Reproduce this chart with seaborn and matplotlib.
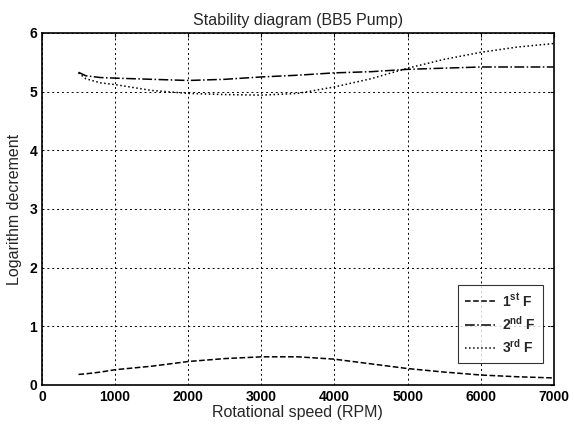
import numpy as np
import pandas as pd
import seaborn as sns
import matplotlib.pyplot as plt

# rotational speed (RPM)
speed = [500, 600, 800, 1000, 1500, 2000, 2500, 3000, 3500, 4000, 4500,
         5000, 5500, 6000, 6500, 7000]

# logarithmic decrement per mode
first_f = [0.18, 0.19, 0.22, 0.26, 0.32, 0.40, 0.45, 0.48, 0.48, 0.44, 0.36,
           0.28, 0.22, 0.17, 0.14, 0.12]
second_f = [5.33, 5.27, 5.24, 5.23, 5.21, 5.19, 5.21, 5.25, 5.28, 5.32, 5.34,
            5.38, 5.40, 5.42, 5.42, 5.42]
third_f = [5.32, 5.22, 5.15, 5.12, 5.02, 4.97, 4.95, 4.94, 4.97, 5.08, 5.22,
           5.40, 5.55, 5.67, 5.76, 5.82]

labels = ['1$^{\\rm st}$ F', '2$^{\\rm nd}$ F', '3$^{\\rm rd}$ F']
styles = ['--', '-.', ':']

df = pd.DataFrame({'speed': speed * 3,
                   'value': first_f + second_f + third_f,
                   'mode': [labels[0]] * len(speed) + [labels[1]] * len(speed) + [labels[2]] * len(speed)})

sns.set_style('white')
plt.rcParams['font.family'] = ['Liberation Sans', 'DejaVu Sans']
plt.rcParams['mathtext.fontset'] = 'custom'
plt.rcParams['mathtext.rm'] = 'Liberation Sans:bold'

fig = plt.figure(figsize=(5.74, 4.28), dpi=100)
ax = fig.add_axes([0.073, 0.1005, 0.892, 0.8225])

for lab, ls in zip(labels, styles):
    sub = df[df['mode'] == lab]
    sns.lineplot(x='speed', y='value', data=sub, ax=ax, color='black',
                 linestyle=ls, linewidth=1.1, label=lab)

ax.set_xlim(0, 7000)
ax.set_ylim(0, 6)
ax.set_xticks(range(0, 7001, 1000))
ax.set_yticks(range(0, 7))
ax.grid(True, color='black', linestyle=(0, (2, 3)), linewidth=0.7)
for s in ax.spines.values():
    s.set_color('black')
    s.set_linewidth(1.2)
ax.tick_params(axis='both', direction='in', length=3, labelsize=10, colors='black',
               top=True, right=True)
for t in ax.get_xticklabels() + ax.get_yticklabels():
    t.set_fontweight('bold')

ax.set_title('Stability diagram (BB5 Pump)', fontsize=11.5)
ax.set_xlabel('Rotational speed (RPM)', fontsize=11.5, labelpad=1)
ax.set_ylabel('Logarithm decrement', fontsize=11.5, labelpad=5)

leg = ax.legend(loc='lower right', bbox_to_anchor=(0.9785, 0.0625), borderaxespad=0,
                frameon=True, fancybox=False, edgecolor='black',
                prop={'weight': 'bold', 'size': 10}, handlelength=2.2,
                handletextpad=0.5, borderpad=0.5, labelspacing=0.4)
leg.get_frame().set_linewidth(0.8)

fig.savefig('out.png', dpi=100)
